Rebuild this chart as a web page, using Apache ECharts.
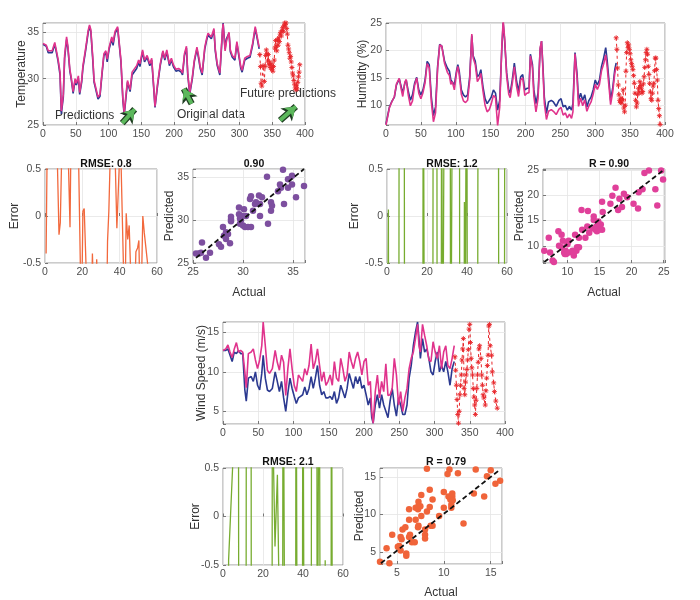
<!DOCTYPE html>
<html>
<head>
<meta charset="utf-8">
<title>Temperature, humidity and wind speed predictions</title>
<script src="https://cdn.jsdelivr.net/npm/echarts@6.0.0/dist/echarts.min.js"></script>
</head>
<body style="margin:0;background:#fff">
<div id="main" style="width:700px;height:600px;"></div>
<script>
// ---- temperature ----
const tempOrig = [[0,33.7],[5,33.5],[8,32.8],[10,33.0],[14,32.8],[18,33.7],[20,33.7],[23,31.9],[26,30.4],[28,26.2],[31,28.0],[33,32.2],[36,34.2],[38,33.3],[41,30.8],[43,30.0],[46,28.4],[49,29.8],[51,29.3],[54,30.0],[56,28.3],[59,29.6],[61,31.2],[65,33.0],[69,35.0],[71,35.6],[73,35.1],[76,32.0],[78,29.6],[81,29.6],[84,27.8],[87,28.1],[90,30.4],[93,32.5],[96,32.8],[98,31.8],[101,33.2],[105,34.3],[107,33.6],[110,34.9],[114,35.4],[117,35.3],[119,31.8],[122,27.6],[124,26.1],[127,28.2],[129,29.6],[133,28.6],[136,30.4],[139,30.2],[143,31.1],[146,31.8],[148,31.3],[152,32.9],[155,31.8],[159,32.3],[163,31.4],[166,32.0],[169,29.0],[171,26.9],[175,29.3],[179,31.4],[183,32.9],[186,32.0],[189,32.9],[193,31.4],[196,32.0],[199,31.3],[203,30.8],[207,30.9],[211,30.7],[213,30.4],[216,32.5],[219,33.3],[221,30.4],[224,28.3],[228,30.0],[231,31.8],[235,33.2],[238,32.0],[240,31.1],[243,30.4],[247,33.2],[250,34.2],[252,34.7],[255,34.9],[257,34.3],[261,35.2],[263,33.0],[266,31.4],[270,30.4],[274,35.1],[275,36.0],[278,33.2],[280,34.3],[284,34.9],[286,32.9],[289,32.3],[293,32.0],[296,33.8],[298,33.6],[302,31.1],[304,30.7],[308,32.0],[312,32.2],[316,32.3],[320,33.6],[324,35.4],[326,34.7],[330,33.2]];
const tempPred = [[0,33.8],[5,33.6],[8,33.0],[10,33.1],[14,33.0],[18,33.9],[20,33.8],[23,32.1],[26,30.7],[28,26.5],[31,28.3],[33,32.5],[36,34.5],[38,33.5],[41,31.0],[43,30.2],[46,28.6],[49,30.0],[51,29.5],[54,30.3],[56,28.5],[59,29.8],[61,31.4],[65,33.2],[69,35.2],[71,35.8],[73,35.3],[76,32.3],[78,29.8],[81,29.8],[84,28.0],[87,28.3],[90,30.6],[93,32.7],[96,33.0],[98,32.1],[101,33.4],[105,34.5],[107,33.9],[110,35.1],[114,35.6],[117,35.5],[119,32.0],[122,27.8],[124,26.3],[127,28.5],[129,29.8],[133,28.8],[136,30.7],[139,30.5],[143,31.4],[146,32.0],[148,31.6],[152,33.1],[155,32.0],[159,32.5],[163,31.6],[166,32.2],[169,29.2],[171,27.0],[175,29.5],[179,31.6],[183,33.0],[186,32.2],[189,33.1],[193,31.6],[196,32.2],[199,31.5],[203,31.0],[207,31.1],[211,30.9],[213,30.6],[216,32.7],[219,33.5],[221,30.6],[224,28.5],[228,30.2],[231,32.0],[235,33.4],[238,32.3],[240,31.3],[243,30.6],[247,33.4],[250,34.4],[252,34.9],[255,35.1],[257,34.5],[261,35.4],[263,33.2],[266,31.6],[270,30.6],[274,35.3],[275,35.9],[278,33.0],[280,34.0],[284,35.0],[286,33.1],[289,32.5],[293,32.2],[296,34.0],[298,33.8],[302,31.3],[304,30.9],[308,32.2],[312,32.4],[316,32.5],[320,33.8],[324,35.6],[326,34.9],[330,33.4]];
const tempFuture = [[331,32.6],[332,31.3],[333,29.5],[334,29.2],[336,31.4],[338,29.7],[339,31.3],[340,32.5],[341,33.1],[342,32.7],[343,31.9],[344,32.6],[345,31.5],[346,31.8],[347,31.2],[348,31.6],[349,31.0],[350,31.4],[351,30.8],[352,31.3],[353,32.0],[354,33.3],[355,34.1],[356,33.5],[357,33.0],[358,34.2],[359,33.6],[360,34.4],[361,34.0],[362,34.8],[363,35.0],[364,34.6],[365,35.2],[366,35.5],[367,35.1],[368,35.7],[369,36.0],[370,35.8],[371,36.0],[372,35.4],[373,34.8],[374,33.6],[375,33.2],[376,32.8],[377,32.2],[378,32.4],[379,31.8],[380,31.2],[381,30.6],[382,30.3],[383,29.8],[384,29.4],[385,29.0],[386,28.8],[387,29.3],[388,28.9],[389,29.6],[390,30.2],[391,30.7],[392,31.5]];
const tempErr = [[0.6,-0.4],[1.1,0.6],[1.2,2.5],[6.4,2.5],[6.6,0.6],[7.5,-0.2],[8.2,-0.07],[8.9,0.6],[9,2.5],[12.3,2.5],[12.5,0.6],[13.4,-0.12],[13.8,0.6],[13.9,2.5],[17.9,2.5],[18.0,0.6],[19.0,-0.6],[19.1,-2.5],[19.8,-2.5],[19.9,-0.6],[20.3,0.05],[21.0,0.08],[21.5,0.06],[22.1,-0.6],[22.2,-2.5],[25.1,-2.5],[25.2,-0.6],[25.4,-0.4],[25.7,-0.6],[25.8,-2.5],[27.4,-2.5],[27.5,-0.6],[27.7,-0.46],[27.9,-0.6],[28,-2.5],[33.2,-2.5],[33.3,-0.6],[33.5,-0.27],[34.2,0.05],[34.9,0.6],[35,2.5],[37.4,2.5],[37.6,0.6],[38.5,-0.13],[39.9,0.6],[40,2.5],[40.6,2.5],[40.7,0.6],[42.1,-0.6],[42.2,-2.5],[43.0,-2.5],[43.1,-0.6],[43.5,0.03],[44.3,-0.25],[45.1,-0.1],[45.9,-0.6],[46,-2.5],[48.3,-2.5],[48.4,-0.6],[48.7,-0.38],[49.6,-0.34],[50.3,-0.26],[50.6,-0.6],[50.7,-2.5],[51.7,-2.5],[51.8,-0.6],[52.4,0.0],[53.2,-0.18],[55.2,-0.55],[55.3,-2.5]];
const tempScatter = [[25.3,26.1],[25.6,26.1],[25.8,26.2],[25.9,27.4],[26.3,25.6],[26.7,26.2],[27.6,27.2],[27.8,26.9],[28.0,29.2],[28.1,28.2],[28.3,28.6],[28.3,27.8],[28.5,28.4],[28.7,27.3],[28.8,30.4],[28.8,30.1],[28.8,29.9],[29.6,31.5],[29.6,30.7],[29.7,30.2],[29.7,29.6],[29.8,30.0],[29.9,30.5],[30.0,29.4],[30.1,31.3],[30.2,29.2],[30.3,30.5],[30.5,29.2],[30.8,29.2],[30.7,32.5],[30.8,32.8],[31.0,31.1],[31.2,31.9],[31.3,32.1],[31.6,32.9],[31.7,31.9],[31.9,32.7],[31.7,30.5],[32.4,35.1],[32.8,31.1],[32.9,31.7],[32.8,32.1],[32.5,29.6],[33.5,33.4],[33.8,33.8],[34.0,35.9],[34.1,31.9],[33.7,34.2],[34.5,33.8],[34.5,34.8],[34.9,35.2],[34.9,34.2],[35.3,32.7],[36.1,34.0]];
const tempFit = [[25.3,25.6],[36.1,36.0]];

// ---- humidity ----
const humOrig = [[0,6.6],[3,8.5],[5,9.7],[8,10.6],[12,11.5],[15,13.7],[19,14.8],[22,13.3],[24,12.2],[27,14.0],[29,14.6],[32,12.5],[35,10.9],[38,11.9],[41,14.0],[44,15.1],[47,12.8],[50,11.9],[53,12.8],[56,14.6],[59,18.0],[62,17.4],[65,11.5],[68,8.1],[71,9.7],[74,17.1],[77,21.1],[80,20.8],[84,18.0],[88,16.8],[91,16.2],[93,14.6],[95,14.9],[98,13.7],[101,16.2],[103,17.4],[105,16.2],[108,12.8],[111,11.9],[114,11.5],[117,11.9],[120,15.2],[123,22.7],[125,19.0],[128,18.0],[131,15.2],[134,15.6],[136,16.5],[139,13.4],[142,11.2],[145,10.3],[148,10.9],[151,11.5],[154,12.8],[157,12.2],[160,9.1],[163,10.9],[166,20.2],[168,25.0],[170,22.0],[173,15.9],[176,12.8],[178,12.2],[181,14.6],[184,17.7],[187,14.6],[190,12.5],[193,15.2],[196,15.6],[199,12.8],[202,13.1],[205,13.1],[207,19.3],[210,17.4],[212,12.8],[215,10.3],[218,12.2],[221,20.2],[223,21.7],[225,17.1],[227,11.5],[230,8.5],[233,10.6],[237,10.9],[240,10.6],[244,9.8],[248,10.9],[251,11.2],[254,9.7],[257,10.0],[260,9.1],[263,9.8],[266,9.1],[268,10.3],[271,19.6],[274,15.6],[276,10.9],[279,12.2],[282,10.9],[285,11.9],[288,9.7],[291,10.9],[294,11.5],[297,12.8],[300,14.6],[303,13.7],[306,14.6],[309,17.1],[312,18.6],[315,20.5],[317,18.3],[320,14.0],[322,10.9],[325,13.1],[328,16.5],[330,17.7]];
const humPred = [[0,6.4],[3,8.3],[5,9.6],[8,10.5],[12,11.6],[15,13.9],[19,14.9],[22,12.8],[24,11.6],[27,14.2],[29,14.7],[32,11.8],[35,9.9],[38,10.8],[41,13.6],[44,15.0],[47,12.2],[50,11.2],[53,12.3],[56,14.1],[59,17.6],[62,16.8],[65,10.6],[68,7.0],[71,8.6],[74,16.7],[77,21.0],[80,20.8],[84,17.6],[88,16.0],[91,15.4],[93,13.8],[95,14.3],[98,12.8],[101,15.8],[103,17.1],[105,15.6],[108,12.0],[111,10.8],[114,10.5],[117,10.9],[120,14.6],[123,23.0],[125,18.6],[128,17.4],[131,14.3],[134,15.0],[136,15.8],[139,12.6],[142,10.0],[145,8.8],[148,9.2],[151,10.3],[154,11.8],[157,11.4],[160,6.3],[163,9.6],[166,20.6],[168,25.5],[170,22.4],[173,15.3],[176,12.0],[178,11.4],[181,13.9],[184,17.0],[187,13.6],[190,11.6],[193,14.6],[196,15.0],[199,11.8],[202,12.2],[205,12.3],[207,19.0],[210,16.8],[212,11.6],[215,8.8],[218,11.2],[221,20.5],[223,21.7],[225,16.4],[227,10.4],[230,7.4],[233,8.9],[237,9.2],[240,8.9],[244,8.3],[248,9.3],[251,9.6],[254,8.2],[257,8.6],[260,7.7],[263,8.4],[266,7.6],[268,8.8],[271,19.4],[274,14.8],[276,9.8],[279,11.3],[282,9.9],[285,11.0],[288,8.9],[291,9.9],[294,10.6],[297,12.0],[300,13.8],[303,12.9],[306,13.8],[309,16.3],[312,17.5],[315,19.2],[317,17.1],[320,13.0],[322,10.1],[325,12.4],[328,15.8],[330,17.0]];
const humFuture = [[330,22.3],[331,20.2],[332,16.8],[333,13.7],[334,11.9],[335,10.9],[336,10.5],[337,11.3],[338,10.4],[339,11.0],[340,12.8],[341,9.5],[342,8.8],[343,10.0],[344,16.2],[345,19.6],[346,21.4],[347,20.5],[348,21.0],[349,20.2],[350,19.4],[351,18.3],[352,17.6],[353,17.1],[354,16.5],[355,15.4],[356,14.0],[357,12.2],[358,10.9],[359,9.7],[360,10.4],[361,12.0],[362,13.1],[363,12.4],[364,14.3],[365,13.6],[366,13.1],[367,12.2],[368,12.5],[369,13.9],[370,15.2],[371,16.9],[372,18.3],[373,19.6],[374,20.2],[375,19.3],[376,17.1],[377,15.6],[378,14.0],[379,12.4],[380,11.2],[381,10.9],[382,12.2],[383,13.5],[384,14.0],[385,16.3],[386,18.6],[387,18.6],[388,16.5],[389,14.6],[390,10.9],[391,9.4],[392,8.1],[393,6.5]];
const humErr = [[0,-2.5],[0.5,-2.5],[0.7,0.07],[0.9,-2.5],[5.9,-2.5],[6.1,2.5],[8.6,2.5],[8.8,-2.5],[17.9,-2.5],[18.1,2.5],[18.6,2.5],[18.8,-2.5],[22.9,-2.5],[23.1,2.5],[24.9,2.5],[25.1,-2.5],[27.1,-2.5],[27.3,2.5],[27.6,2.5],[27.8,-2.5],[28.6,-2.5],[28.8,2.5],[31.6,2.5],[31.8,-2.5],[32.7,-2.5],[32.9,2.5],[36.2,2.5],[36.4,-2.5],[38.5,-2.5],[38.7,0.15],[38.9,-2.5],[39.6,-2.5],[39.8,2.5],[40.1,2.5],[40.3,-2.5],[45.3,-2.5],[45.4,-0.18],[45.6,2.5],[55.7,2.5],[55.9,-2.5],[58.7,-2.5],[58.9,2.5],[60,2.5]];
const humScatter = [[6.4,9.0],[7.1,11.6],[7.3,8.7],[7.7,7.1],[7.9,6.8],[8.6,12.9],[8.7,10.0],[9.1,9.7],[9.1,12.2],[9.3,11.0],[9.5,8.7],[9.6,8.4],[9.7,9.0],[9.8,8.4],[10.0,10.3],[10.2,11.0],[10.2,8.7],[10.8,9.0],[11.0,8.1],[11.2,12.2],[11.4,9.0],[11.5,9.7],[11.8,11.6],[11.8,9.7],[12.2,17.1],[12.3,13.2],[12.8,11.6],[13.1,13.8],[13.2,16.9],[13.4,12.6],[13.9,13.5],[14.1,15.8],[14.1,15.1],[14.4,13.2],[14.5,13.8],[14.6,12.9],[14.8,14.8],[14.9,13.2],[15.2,14.2],[15.4,18.7],[15.5,16.7],[15.4,13.2],[16.7,18.3],[17.0,19.9],[17.5,21.5],[17.9,17.1],[18.1,19.3],[18.5,17.7],[18.8,20.3],[19.3,19.6],[20.3,18.3],[21.0,17.4],[21.1,20.6],[21.7,21.2],[22.0,24.4],[22.7,24.9],[23.7,21.2],[24.0,18.0],[24.6,24.9],[24.9,23.1]];
const humFit = [[6.4,6.8],[24.9,24.9]];

// ---- wind speed ----
const windOrig = [[0,12.7],[4,12.7],[7,12.9],[10,12.1],[13,11.3],[16,12.5],[19,12.3],[22,12.7],[25,12.3],[28,12.3],[31,7.7],[33,6.3],[36,9.2],[40,9.4],[43,8.8],[46,10.0],[49,8.3],[52,7.7],[55,9.8],[57,12.1],[60,9.2],[63,7.7],[66,7.5],[70,7.9],[74,10.0],[77,8.8],[80,7.5],[83,8.8],[86,6.7],[89,5.0],[92,7.3],[95,9.2],[98,7.9],[101,6.9],[104,6.0],[107,6.7],[110,6.9],[113,7.1],[116,8.1],[119,7.1],[122,7.9],[125,9.4],[128,7.9],[131,9.2],[134,10.8],[137,8.3],[140,7.1],[143,7.5],[146,6.7],[149,6.7],[152,6.9],[155,6.5],[158,7.5],[161,6.0],[164,6.7],[167,8.3],[170,7.5],[173,6.7],[176,7.9],[179,9.8],[182,8.8],[185,7.9],[188,9.4],[191,8.5],[194,9.4],[197,7.9],[200,8.3],[203,7.1],[206,5.8],[209,6.7],[211,4.2],[213,3.5],[216,5.8],[219,7.1],[222,5.4],[225,7.1],[228,5.8],[231,5.0],[234,4.2],[237,6.3],[240,7.9],[243,5.8],[246,4.4],[249,6.7],[252,5.8],[255,4.6],[258,4.6],[261,5.8],[264,9.2],[267,10.8],[270,13.3],[273,15.0],[276,16.3],[278,14.2],[280,11.7],[283,14.2],[286,12.5],[289,12.9],[292,11.7],[295,10.0],[298,9.6],[301,11.3],[304,12.5],[307,10.0],[310,10.8],[313,10.0],[316,11.3],[319,10.0],[322,8.3],[325,10.4],[328,11.3]];
const windPred = [[0,12.7],[4,12.9],[7,13.4],[10,12.5],[13,11.8],[16,12.9],[19,13.7],[22,12.5],[25,12.7],[28,12.5],[31,10.0],[33,8.0],[36,12.3],[40,12.5],[43,12.9],[46,11.5],[49,10.4],[52,11.5],[55,13.3],[57,16.3],[60,13.3],[63,10.2],[66,9.8],[70,10.4],[74,12.7],[77,11.2],[80,10.2],[83,12.1],[86,11.2],[89,7.0],[92,10.4],[95,12.9],[98,10.4],[101,8.3],[104,7.5],[107,9.6],[110,9.2],[113,8.8],[116,10.4],[119,9.6],[122,10.8],[125,13.5],[128,10.4],[131,11.3],[134,12.9],[137,10.8],[140,8.8],[143,10.0],[146,8.3],[149,8.8],[152,9.6],[155,8.3],[158,11.3],[161,9.2],[164,8.8],[167,11.7],[170,10.4],[173,8.8],[176,9.6],[179,12.5],[182,11.3],[185,10.4],[188,11.7],[191,12.5],[194,11.3],[197,9.6],[200,11.3],[203,11.7],[206,8.3],[209,8.8],[211,5.0],[213,3.5],[216,7.5],[219,9.6],[222,6.7],[225,8.8],[228,7.5],[231,11.0],[234,7.0],[237,7.1],[240,7.9],[243,11.7],[246,9.6],[249,5.8],[252,7.5],[255,5.0],[258,6.7],[261,7.9],[264,10.4],[267,11.7],[270,12.5],[273,14.2],[276,16.0],[278,13.3],[280,12.5],[283,16.0],[286,14.6],[289,13.3],[292,11.5],[295,11.3],[298,13.8],[301,12.5],[304,11.7],[307,13.3],[310,10.4],[313,12.5],[316,13.3],[319,10.8],[322,10.4],[325,11.7],[328,13.3]];
const windFuture = [[329,11.9],[330,10.2],[331,8.3],[332,6.5],[333,4.6],[334,3.5],[335,5.0],[336,7.1],[337,8.3],[338,9.6],[339,11.5],[340,12.9],[341,14.2],[342,7.9],[343,7.1],[344,8.7],[345,9.6],[346,10.3],[347,11.5],[348,12.8],[349,15.4],[350,16.0],[351,13.7],[352,11.7],[353,10.5],[354,9.6],[355,7.9],[356,6.8],[357,5.8],[358,4.6],[359,6.4],[360,7.9],[361,9.6],[362,11.2],[363,12.9],[364,13.3],[366,11.7],[367,9.6],[368,8.3],[369,7.1],[370,6.7],[372,5.8],[373,7.6],[374,9.2],[375,10.8],[376,12.1],[377,15.8],[378,16.0],[379,13.3],[381,12.1],[382,10.0],[384,8.6],[385,7.5],[387,6.3],[389,5.4]];
const windErr = [[0,-2.5],[2.7,-2.5],[2.8,-0.45],[3.6,-0.45],[5.0,0.6],[5.1,2.5],[7.7,2.5],[7.9,-2.5],[11.5,-2.5],[11.7,2.5],[14.0,2.5],[14.2,-2.5],[24.5,-2.5],[24.7,2.5],[25.1,2.5],[25.2,0.6],[26.0,-0.31],[27.2,0.43],[27.9,-0.6],[28.0,-2.5],[29.8,-2.5],[30.0,2.5],[30.9,2.5],[31.1,-2.5],[36.3,-2.5],[36.5,2.5],[37.0,2.5],[37.2,-2.5],[39.7,-2.5],[39.9,2.5],[40.5,2.5],[40.7,-2.5],[44.1,-2.5],[44.3,2.5],[46.9,2.5],[47.1,-2.5],[47.9,-2.5],[48.1,2.5],[48.5,2.5],[48.7,-2.5],[51.0,-2.5],[51.1,-0.45],[51.4,-0.45],[51.5,-2.5],[54.0,-2.5],[54.2,2.5],[54.6,2.5],[54.8,-2.5],[60,-2.5]];
const windScatter = [[3.2,3.7],[3.9,5.5],[4.2,3.5],[4.5,7.3],[5.1,5.7],[5.25,5.8],[5.4,7.0],[5.5,6.7],[5.4,5.2],[5.6,8.0],[5.9,8.3],[6.0,4.8],[6.0,4.5],[6.3,10.7],[6.3,9.3],[6.3,7.0],[6.4,7.3],[6.6,6.3],[6.9,6.3],[7.0,10.9],[7.0,9.3],[7.25,10.7],[7.3,11.1],[7.25,8.3],[7.3,8.5],[7.3,11.7],[7.5,11.1],[7.6,9.8],[7.6,12.6],[8.0,7.3],[8.0,6.8],[8.0,8.0],[8.2,16.1],[8.2,10.4],[8.5,13.3],[8.5,11.0],[8.6,8.5],[8.8,12.0],[8.8,8.5],[9.5,9.8],[10.0,13.0],[10.0,10.9],[10.4,15.4],[10.5,12.4],[10.6,16.0],[10.7,12.0],[10.8,11.3],[10.8,10.9],[10.9,12.4],[10.9,12.8],[10.95,11.9],[11.5,15.5],[12.1,8.8],[13.2,12.8],[13.4,16.0],[14.3,12.4],[14.6,15.1],[15.0,15.9],[15.5,14.1],[16.0,14.5]];
const windFit = [[3.3,3.5],[15.9,15.9]];

const panelTitles = ['RMSE: 0.8', '0.90', 'RMSE: 1.2', 'R = 0.90', 'RMSE: 2.1', 'R = 0.79'];
const notes = ['Predictions', 'Original data', 'Future predictions'];

const myChart = echarts.init(document.getElementById('main'));

const FONT = 'Liberation Sans, Arial, sans-serif';
const tickColor = '#4d4d4d';
const gridLine = '#e4e4e4';
const boxColor = '#999';
const star = 'path://M5,0L5,10M0,5L10,5M1.5,1.5L8.5,8.5M1.5,8.5L8.5,1.5';

const fives = v => (Math.abs(v / 5 - Math.round(v / 5)) < 1e-6 ? String(v) : '');

function axis(gi, min, max, o) {
    o = o || {};
    const a = {
        type: 'value', gridIndex: gi, min: min, max: max,
        axisLine: {show: false},
        axisTick: {show: true, inside: true, length: 3, lineStyle: {color: '#777'}},
        axisLabel: {color: tickColor, fontSize: 10.5, fontFamily: FONT, margin: 4, formatter: o.fmt},
        splitLine: {show: true, lineStyle: {color: gridLine, width: 0.8}},
        name: o.name || '', nameLocation: 'middle', nameGap: o.gap || 15,
        nameMoveOverlap: false,
        nameTextStyle: {color: '#333', fontSize: 12, fontFamily: FONT}
    };
    if (o.interval) a.interval = o.interval;
    if (o.split) a.splitNumber = o.split;
    return a;
}

const grids = [
    {left: 43, top: 23, width: 262, height: 102},
    {left: 386, top: 23, width: 279, height: 102},
    {left: 45, top: 169, width: 112, height: 94},
    {left: 193, top: 169, width: 112, height: 94},
    {left: 387, top: 169, width: 120, height: 94},
    {left: 543, top: 169, width: 122, height: 94},
    {left: 223, top: 322, width: 282, height: 102},
    {left: 223, top: 468, width: 120, height: 97},
    {left: 380, top: 468, width: 122, height: 97}
].map(g => Object.assign(g, {show: true, borderColor: boxColor, borderWidth: 1, containLabel: false}));

const xAxes = [
    axis(0, 0, 400, {interval: 50}),
    axis(1, 0, 400, {interval: 50}),
    axis(2, 0, 60, {interval: 20}),
    axis(3, 25, 36.2, {interval: 5, fmt: fives, name: 'Actual', gap: 24}),
    axis(4, 0, 60, {interval: 20}),
    axis(5, 6.2, 25.2, {split: 4, fmt: fives, name: 'Actual', gap: 24}),
    axis(6, 0, 400, {interval: 50}),
    axis(7, 0, 60, {interval: 20}),
    axis(8, 3.2, 16.2, {split: 3, fmt: fives, name: 'Actual', gap: 23})
];
const yAxes = [
    axis(0, 25, 36, {interval: 5, fmt: fives, name: 'Temperature', gap: 15}),
    axis(1, 6.4, 25, {split: 4, fmt: fives, name: 'Humidity (%)', gap: 17}),
    axis(2, -0.5, 0.5, {interval: 0.5, name: 'Error', gap: 24}),
    axis(3, 25, 36, {interval: 5, fmt: fives, name: 'Predicted', gap: 17}),
    axis(4, -0.5, 0.5, {interval: 0.5, name: 'Error', gap: 26}),
    axis(5, 6.6, 25.2, {split: 4, fmt: fives, name: 'Predicted', gap: 17}),
    axis(6, 3.4, 16.3, {split: 3, fmt: fives, name: 'Wind Speed (m/s)', gap: 15}),
    axis(7, -0.5, 0.5, {interval: 0.5, name: 'Error', gap: 21}),
    axis(8, 3.4, 16.2, {split: 3, fmt: fives, name: 'Predicted', gap: 14})
];

function line(i, data, color, w) {
    return {type: 'line', xAxisIndex: i, yAxisIndex: i, data: data, showSymbol: false,
        lineStyle: {color: color, width: w}, itemStyle: {color: color}, animation: false, silent: true};
}
function future(i, data) {
    return {type: 'line', xAxisIndex: i, yAxisIndex: i, data: data, symbol: star, symbolSize: 5,
        lineStyle: {color: '#e8262a', width: 1, type: [3, 3]},
        itemStyle: {color: '#e8262a', borderColor: '#e8262a', borderWidth: 0.9},
        animation: false, silent: true};
}
function dots(i, data, color) {
    return {type: 'scatter', xAxisIndex: i, yAxisIndex: i, data: data, symbolSize: 6.5,
        itemStyle: {color: color, opacity: 1}, animation: false, silent: true};
}
function fit(i, data) {
    return {type: 'line', xAxisIndex: i, yAxisIndex: i, data: data, showSymbol: false,
        lineStyle: {color: '#111', width: 1.8, type: [5, 3]}, animation: false, silent: true};
}

// green arrows on the temperature panel
function arrow(from, to) {
    return [
        [{coord: from, symbol: 'none', lineStyle: {color: '#1f3d22', width: 6.5}},
         {coord: to, symbol: 'arrow', symbolSize: 13}],
        [{coord: from, symbol: 'none', lineStyle: {color: '#5cb85c', width: 4}},
         {coord: to, symbol: 'arrow', symbolSize: 10}]
    ];
}
const arrows = [].concat(
    arrow([121, 25.2], [140, 26.7]),
    arrow([227, 27.3], [215, 28.9]),
    arrow([362, 25.5], [386, 27.0])
);

const tempFutureSeries = future(0, tempFuture);
tempFutureSeries.markLine = {silent: true, animation: false, label: {show: false},
    symbol: ['none', 'arrow'], lineStyle: {type: 'solid'}, data: arrows};

const option = {
    backgroundColor: '#fff',
    grid: grids,
    xAxis: xAxes,
    yAxis: yAxes,
    title: [
        [101, 154], [249, 154], [447, 154], [604, 154], [283, 452], [441, 452]
    ].map((p, k) => ({text: panelTitles[k], left: p[0], top: p[1], textAlign: 'center',
        textStyle: {fontSize: 10.5, fontWeight: 'bold', color: '#111', fontFamily: FONT}})),
    graphic: [
        {type: 'text', left: 55, top: 110, style: {text: notes[0], font: '12px ' + FONT, fill: '#333'}},
        {type: 'text', left: 177, top: 109, style: {text: notes[1], font: '12px ' + FONT, fill: '#333'}},
        {type: 'text', left: 240, top: 88, style: {text: notes[2], font: '12px ' + FONT, fill: '#333'}}
    ],
    series: [
        line(0, tempOrig, '#2b3990', 1.6),
        line(0, tempPred, '#e0338c', 1.6),
        tempFutureSeries,
        line(1, humOrig, '#2b3990', 1.6),
        line(1, humPred, '#e0338c', 1.6),
        future(1, humFuture),
        line(2, tempErr, '#f2683c', 1.3),
        dots(3, tempScatter, '#7d4f9f'),
        fit(3, tempFit),
        line(4, humErr, '#77ac30', 1.3),
        dots(5, humScatter, '#e0409a'),
        fit(5, humFit),
        line(6, windOrig, '#2b3990', 1.6),
        line(6, windPred, '#e0338c', 1.6),
        future(6, windFuture),
        line(7, windErr, '#77ac30', 1.3),
        dots(8, windScatter, '#f0643a'),
        fit(8, windFit)
    ]
};
myChart.setOption(option);
</script>
</body>
</html>
